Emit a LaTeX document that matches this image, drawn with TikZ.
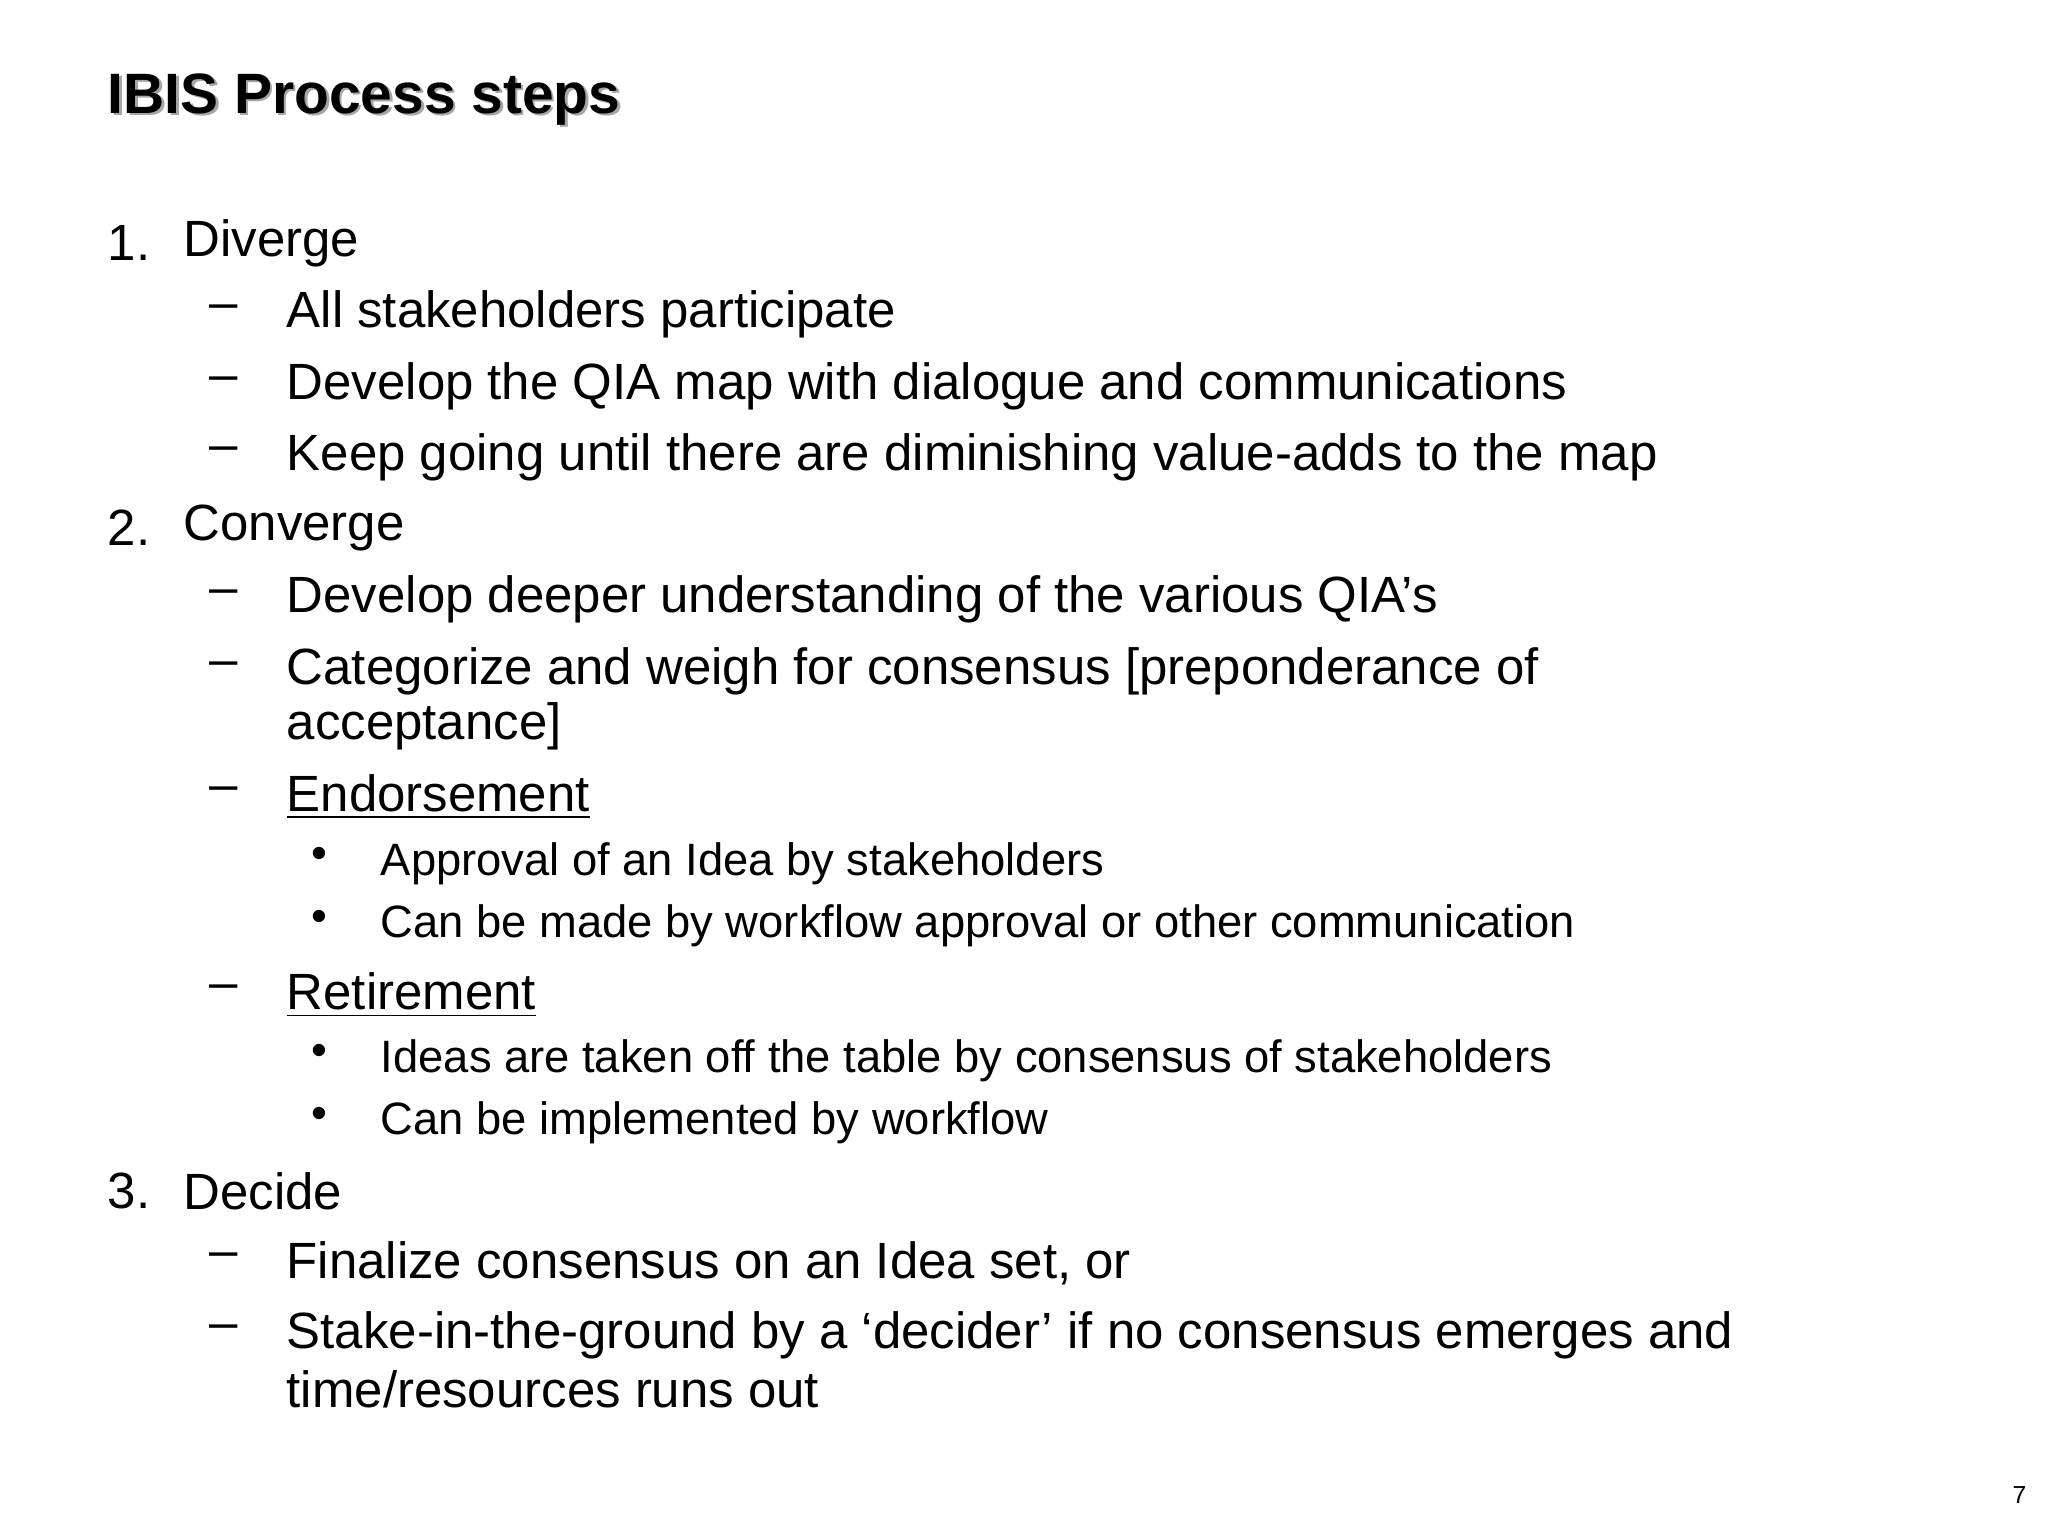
\documentclass[tikz,border=0pt]{standalone}
\usepackage{fontspec}
\setmainfont{Liberation Sans}
\begin{document}
\begin{tikzpicture}[x=0.013061cm,y=-0.013061cm,
  lvl/.style={anchor=west,inner sep=0pt,font=\fontsize{14.5}{17}\selectfont},
  sub/.style={anchor=west,inner sep=0pt,font=\fontsize{12.9}{15}\selectfont},
  ttl/.style={anchor=west,inner sep=0pt,font=\fontsize{16.2}{19}\selectfont\bfseries}]
\useasboundingbox (0,0) rectangle (1568,1176);
\node[ttl,text=black!35] at (84,78) {IBIS Process steps};
\node[ttl] (title) at (82,76) {IBIS Process steps};
% level 1
\node[lvl] (n1) at (82,186) {1.};  \node[lvl] (t1) at (140,186) {Diverge};
\node[lvl] (n2) at (82,404) {2.};  \node[lvl] (t2) at (140,404) {Converge};
\node[lvl] (n3) at (82,912) {3.};  \node[lvl] (t3) at (140,912) {Decide};
% dashes
\foreach \y/\nm in {241/a,296/b,350/c,459/d,514/e,610/f,762/g,967/h,1022/i}
  \node[lvl] (d\nm) at (160,\y-2) {–};
\node[lvl] (a) at (219,241) {All stakeholders participate};
\node[lvl] (b) at (219,296) {Develop the QIA map with dialogue and communications};
\node[lvl] (c) at (219,350) {Keep going until there are diminishing value-adds to the map};
\node[lvl] (d) at (219,459) {Develop deeper understanding of the various QIA’s};
\node[lvl] (e) at (219,514) {Categorize and weigh for consensus [preponderance of};
\node[lvl] (e2) at (219,556) {acceptance]};
\node[lvl] (f) at (219,610) {\underline{Endorsement}};
\node[lvl] (g) at (219,762) {\underline{Retirement}};
\node[lvl] (h) at (219,967) {Finalize consensus on an Idea set, or};
\node[lvl] (i) at (219,1022) {Stake-in-the-ground by a ‘decider’ if no consensus emerges and};
\node[lvl] (i2) at (219,1064) {time/resources runs out};
% bullets
\foreach \y/\nm in {661/a,709/b,812/c,860/d}
  \node[sub] (b\nm) at (238,\y-4) {•};
\node[sub] (s1) at (291,661) {Approval of an Idea by stakeholders};
\node[sub] (s2) at (291,709) {Can be made by workflow approval or other communication};
\node[sub] (s3) at (291,812) {Ideas are taken off the table by consensus of stakeholders};
\node[sub] (s4) at (291,860) {Can be implemented by workflow};
\node[anchor=east,inner sep=0pt,font=\fontsize{7}{8}\selectfont] (pg) at (1552,1145) {7};
\end{tikzpicture}
\end{document}
